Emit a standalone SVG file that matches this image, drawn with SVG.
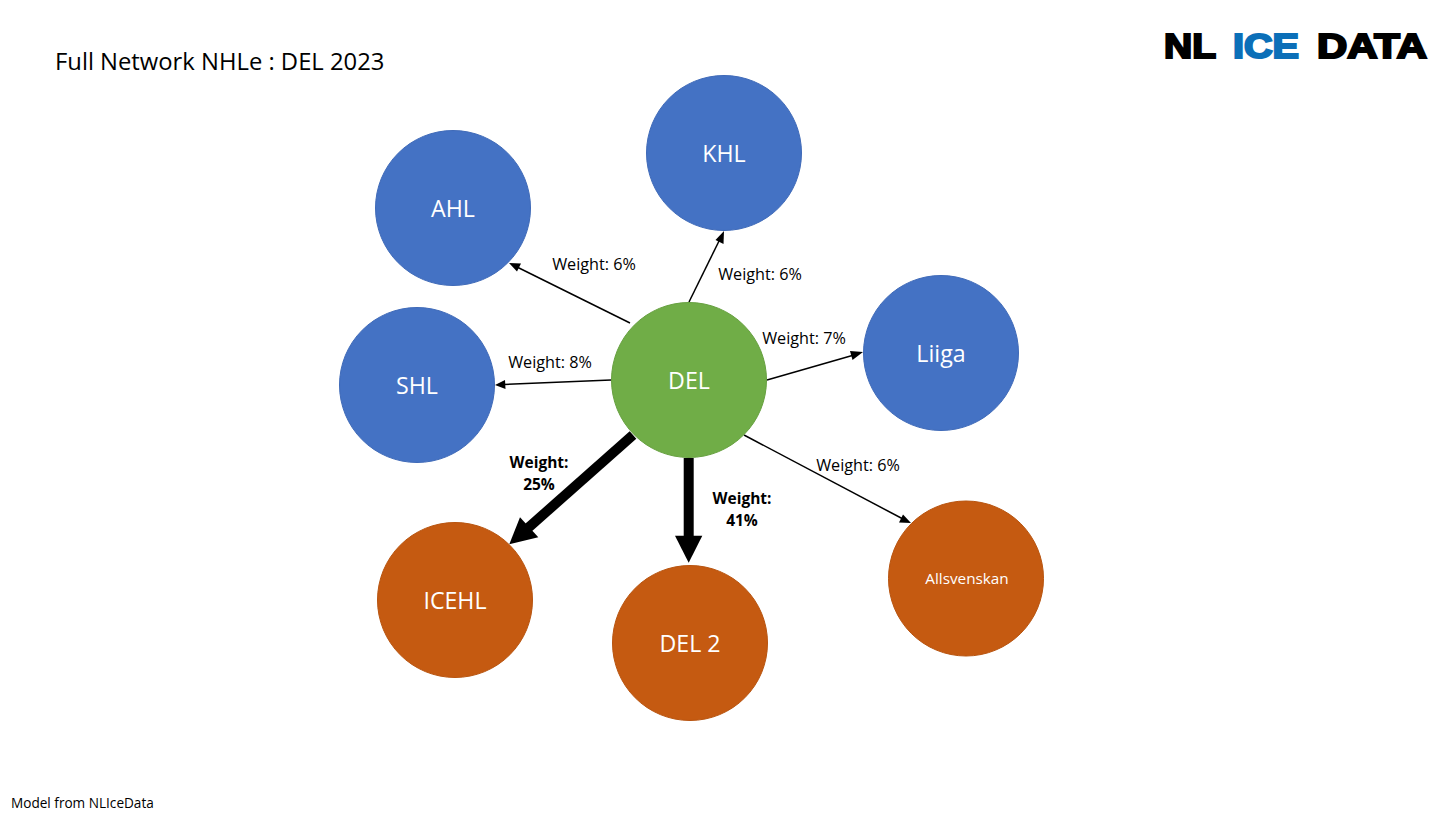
<svg xmlns="http://www.w3.org/2000/svg" width="1456" height="823" viewBox="0 0 1456 823">
<style>
text{font-family:"Open Sans","Noto Sans",sans-serif;}
.n{stroke-width:1;}
.b{fill:#4472c4;stroke:#3f6ab8;}
.g{fill:#70ad47;stroke:#66a03f;}
.o{fill:#c55a11;stroke:#b8540f;}
.l{fill:#fff;font-size:23.2px;text-anchor:middle;}
.w{fill:#000;font-size:16.2px;text-anchor:middle;}
.wb{fill:#000;font-size:15.5px;font-weight:700;text-anchor:middle;}
.c{stroke:#000;fill:none;}
.logo{font-family:"Liberation Sans",Arial,sans-serif;font-weight:700;font-size:35px;stroke-width:2.2;}
</style>
<rect width="1456" height="823" fill="#fff"/>
<text x="55" y="70" font-size="23.8" fill="#000">Full Network NHLe : DEL 2023</text>
<text x="11" y="808" font-size="13.6" fill="#000">Model from NLIceData</text>
<g id="logo">
<text class="logo" x="1164" y="58" textLength="52" lengthAdjust="spacingAndGlyphs" fill="#000" stroke="#000">NL</text>
<text class="logo" x="1233" y="58" textLength="66" lengthAdjust="spacingAndGlyphs" fill="#0b6fb8" stroke="#0b6fb8">ICE</text>
<text class="logo" x="1317" y="58" textLength="110" lengthAdjust="spacingAndGlyphs" fill="#000" stroke="#000">DATA</text>
</g>
<g id="connectors">
<path class="c" stroke-width="1.5" d="M630 323L517 267"/><polygon points="509,263 521,263.500 517,271.500"/>
<path class="c" stroke-width="1.5" d="M689 302L720 239"/><polygon points="724,231 723.500,244 715.500,240"/>
<path class="c" stroke-width="1.500" d="M767 380L854 355"/><polygon points="863,352 852.500,360 850,351"/>
<path class="c" stroke-width="1.500" d="M611 380L504 384.500"/><polygon points="495,385 505,380 505.500,389"/>
<path class="c" stroke-width="1.500" d="M744 435L903 519"/><polygon points="911,523 899,522.500 903,514.500"/>
<path class="c" stroke-width="10" d="M633 435L528 528"/><polygon points="509.300,544.300 520,517.300 538.300,537.300"/>
<path class="c" stroke-width="10" d="M688.700 458L688.700 537"/><polygon points="688.700,562.700 675,535.700 702.300,535.700"/>
</g>
<g id="AHL"><circle class="n b" cx="453" cy="208" r="77.500"/><text class="l" x="453" y="217">AHL</text></g>
<g id="KHL"><circle class="n b" cx="724" cy="153" r="77.500"/><text class="l" x="724" y="162">KHL</text></g>
<g id="Liiga"><circle class="n b" cx="941" cy="353" r="77.500"/><text class="l" x="941" y="362">Liiga</text></g>
<g id="SHL"><circle class="n b" cx="417" cy="385" r="77.500"/><text class="l" x="417" y="394">SHL</text></g>
<g id="DEL"><circle class="n g" cx="689" cy="380" r="77.500"/><text class="l" x="689" y="389">DEL</text></g>
<g id="ICEHL"><circle class="n o" cx="455" cy="600" r="77.500"/><text class="l" x="455" y="609">ICEHL</text></g>
<g id="DEL2"><circle class="n o" cx="690" cy="643" r="77.500"/><text class="l" x="690" y="652">DEL 2</text></g>
<g id="Allsvenskan"><circle class="n o" cx="966" cy="578.500" r="77.500"/><text x="967" y="584" fill="#fff" font-size="15.300" text-anchor="middle">Allsvenskan</text></g>
<g id="labels">
<text class="w" x="594" y="270">Weight: 6%</text>
<text class="w" x="760" y="280">Weight: 6%</text>
<text class="w" x="804" y="344">Weight: 7%</text>
<text class="w" x="550" y="368">Weight: 8%</text>
<text class="w" x="858" y="471">Weight: 6%</text>
<text class="wb" x="539" y="468">Weight:</text><text class="wb" x="539" y="490">25%</text>
<text class="wb" x="742" y="504">Weight:</text><text class="wb" x="742" y="526">41%</text>
</g>
</svg>
